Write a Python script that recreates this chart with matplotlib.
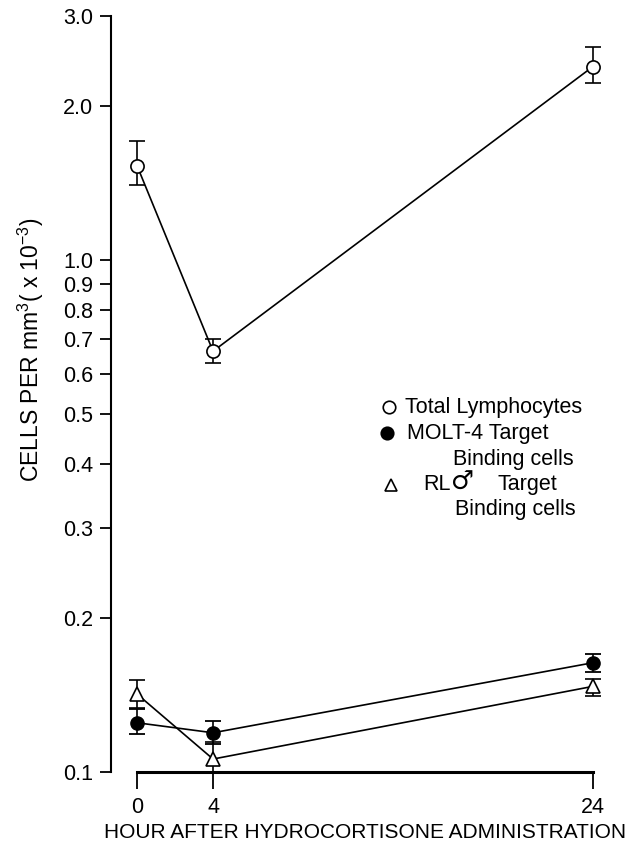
import matplotlib
matplotlib.use("Agg")
import matplotlib.pyplot as plt
import numpy as np

plt.rcParams['font.family'] = ['Liberation Sans', 'DejaVu Sans']
plt.rcParams['mathtext.fontset'] = 'custom'
plt.rcParams['mathtext.rm'] = 'Liberation Sans'
plt.rcParams['mathtext.it'] = 'Liberation Sans'

hours = [0, 4, 24]
total = [1.53, 0.664, 2.39]
total_lo = [1.40, 0.629, 2.215]
total_hi = [1.71, 0.700, 2.61]
molt = [0.1248, 0.1193, 0.1635]
molt_lo = [0.1185, 0.1134, 0.157]
molt_hi = [0.1326, 0.1258, 0.170]
rl = [0.142, 0.106, 0.147]
rl_lo = [0.1334, 0.0982, 0.1408]
rl_hi = [0.1513, 0.1143, 0.152]
yticks = [0.1, 0.2, 0.3, 0.4, 0.5, 0.6, 0.7, 0.8, 0.9, 1.0, 2.0, 3.0]
xticks = [0, 4, 24]

W, H = 626, 844
fig = plt.figure(figsize=(W / 100, H / 100), dpi=100)
ax = fig.add_axes([111 / W, 1 - 772 / H, 501 / W, 756 / H])
ax.set_yscale('log')
ax.set_xlim(-1.37, 25)
ax.set_ylim(0.1, 3.0)

def err(v, lo, hi):
    v = np.array(v); return [v - np.array(lo), np.array(hi) - v]

common = dict(color='black', lw=1.2, capsize=6, capthick=1.3, elinewidth=1.2, zorder=3)
ax.errorbar(hours, total, yerr=err(total, total_lo, total_hi), fmt='-o', ms=9.5,
            mfc='white', mec='black', mew=1.2, **common)
ax.errorbar(hours, molt, yerr=err(molt, molt_lo, molt_hi), fmt='-o', ms=9.5,
            mfc='black', mec='black', **common)
ax.errorbar(hours, rl, yerr=err(rl, rl_lo, rl_hi), fmt='-^', ms=9.5,
            mfc='white', mec='black', mew=1.2, **common)

ax.spines['top'].set_visible(False)
ax.spines['right'].set_visible(False)
ax.spines['left'].set_linewidth(1.5)
ax.spines['left'].set_bounds(0.1, 3.0)
ax.spines['bottom'].set_linewidth(2.2)
ax.spines['bottom'].set_bounds(0, 24)

fs = 15.5
ax.set_yticks(yticks)
ax.set_yticklabels([f"{t:.1f}" for t in yticks])
ax.yaxis.set_minor_locator(matplotlib.ticker.NullLocator())
ax.set_xticks(xticks)
ax.set_xticklabels([str(t) for t in xticks])
ax.tick_params(axis='y', direction='out', length=8, width=1.3, pad=5, labelsize=fs)
ax.tick_params(axis='x', direction='out', length=12, width=1.3, pad=6, labelsize=fs)

fig.text(365 / W, 1 - 833 / H, "HOUR AFTER HYDROCORTISONE ADMINISTRATION",
         ha='center', va='center', fontsize=15)
fig.text(31 / W, 1 - 350 / H, r"CELLS PER mm$^{3}$( x 10$^{-3}$)",
         rotation=90, ha='center', va='center', fontsize=16.5)

def px(x, y):
    return x / W, 1 - y / H

# legend
mk = dict(transform=fig.transFigure, clip_on=False, color='black', ms=9, mew=1.2)
ax.plot(*px(389, 407), 'o', mfc='white', mec='black', **mk)
ax.plot(*px(387, 433), 'o', mfc='black', mec='black', **mk)
ax.plot(*px(391, 485), '^', mfc='white', mec='black', **mk)
fig.text(*px(405, 407), "Total Lymphocytes", ha='left', va='center', fontsize=fs)
fig.text(*px(407, 433), "MOLT-4 Target", ha='left', va='center', fontsize=fs)
fig.text(*px(453, 460), "Binding cells", ha='left', va='center', fontsize=fs)
fig.text(*px(423, 485), "RL", ha='left', va='center', fontsize=fs)
fig.text(*px(451, 483), "\u2642", ha='left', va='center', fontsize=fs + 3,
         family=['DejaVu Sans'])
fig.text(*px(497, 485), "Target", ha='left', va='center', fontsize=fs)
fig.text(*px(455, 510), "Binding cells", ha='left', va='center', fontsize=fs)

fig.savefig("out.png", dpi=100)
